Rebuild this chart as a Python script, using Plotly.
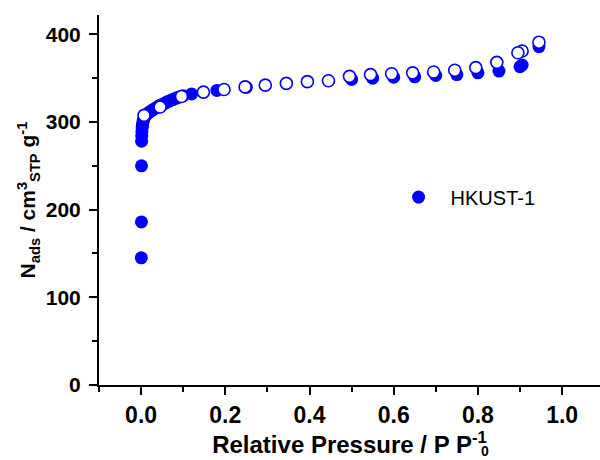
import plotly.graph_objects as go

# N2 isotherm of HKUST-1 (77 K): adsorption branch (filled) and desorption branch (open)
ads_p = [0.0005, 0.0008, 0.001, 0.0012, 0.0015, 0.002, 0.0025, 0.003, 0.004, 0.005,
         0.006, 0.008, 0.01, 0.015, 0.02, 0.025, 0.03, 0.035, 0.04, 0.045,
         0.05, 0.055, 0.06, 0.065, 0.07, 0.075, 0.08, 0.085, 0.09, 0.1,
         0.12, 0.18, 0.25, 0.5, 0.55, 0.6, 0.65, 0.7, 0.75, 0.8,
         0.85, 0.9, 0.905, 0.945]
ads_n = [145, 186, 250, 278, 284, 289, 293, 296, 299, 301,
         303, 305, 307, 309.5, 311.5, 313, 314.5, 316, 317.5, 319,
         320, 321, 322.5, 323.5, 324.5, 325.5, 326.5, 327.5, 328.5, 330,
         332, 336, 339.5, 348.5, 350, 351, 351.5, 353, 354, 356,
         358, 363, 365, 386]

des_p = [0.945, 0.905, 0.895, 0.845, 0.795, 0.745, 0.695, 0.645, 0.595, 0.545,
         0.495, 0.445, 0.395, 0.345, 0.295, 0.247, 0.197, 0.148, 0.096, 0.045, 0.007]
des_n = [391, 381, 379, 368, 362, 359, 357, 356, 355, 354,
         352, 347, 346, 344, 342, 340, 337, 334, 329, 317, 307.5]

series_name = "HKUST-1"
x_ticks = [0.0, 0.2, 0.4, 0.6, 0.8, 1.0]
y_ticks = [0, 100, 200, 300, 400]

BLUE = "#0000FF"
FONT = "Liberation Sans, Arial, sans-serif"

fig = go.Figure()
fig.add_trace(go.Scatter(
    x=ads_p, y=ads_n, mode="markers", name=series_name,
    marker=dict(symbol="circle", size=13, color=BLUE, line=dict(width=0)),
))
fig.add_trace(go.Scatter(
    x=des_p, y=des_n, mode="markers", name=series_name + " desorption",
    showlegend=False,
    marker=dict(symbol="circle", size=12, color="white",
                line=dict(width=1.6, color=BLUE)),
))

axis_common = dict(
    showline=True, linecolor="black", linewidth=2,
    ticks="outside", ticklen=8, tickwidth=2, tickcolor="black",
    showgrid=False, zeroline=False, mirror=False,
)

fig.update_layout(
    width=600, height=460,
    margin=dict(l=99, r=0, t=15, b=75, autoexpand=False),
    paper_bgcolor="white", plot_bgcolor="white",
    font=dict(family=FONT, color="black"),
    showlegend=True,
    legend=dict(
        x=0.574, y=0.508, xanchor="left", yanchor="middle",
        itemwidth=54,
        bgcolor="rgba(0,0,0,0)", borderwidth=0,
        font=dict(family=FONT, size=20, color="black"),
    ),
    xaxis=dict(
        **axis_common,
        range=[-0.1, 1.09],
        tickmode="array", tickvals=x_ticks,
        ticktext=[f"{v:.1f}" for v in x_ticks],
        tickfont=dict(family=FONT, size=23, weight="bold"),
        minor=dict(dtick=0.1, tick0=0, ticks="outside", ticklen=5,
                   tickwidth=2, tickcolor="black", showgrid=False),
        title=dict(text="Relative Pressure / P P<sup>-1</sup>",
                   font=dict(family=FONT, size=24, weight="bold"),
                   standoff=10),
    ),
    yaxis=dict(
        **axis_common,
        range=[0, 422],
        tickmode="array", tickvals=y_ticks,
        tickfont=dict(family=FONT, size=21, weight="bold"),
        ticklabelstandoff=4,
        minor=dict(dtick=50, tick0=0, ticks="outside", ticklen=5,
                   tickwidth=2, tickcolor="black", showgrid=False),
        title=dict(text="N<sub>ads</sub> / cm<sup>3</sup><sub>STP</sub> g<sup>-1</sup>",
                   font=dict(family=FONT, size=21, weight="bold"),
                   standoff=4),
    ),
)

# subscript 0 stacked beneath the -1 exponent in the x-axis title
fig.add_annotation(
    text="0", xref="paper", yref="paper", x=0.770, y=-0.178,
    xanchor="center", yanchor="middle", showarrow=False,
    font=dict(family=FONT, size=14, weight="bold", color="black"),
)

fig.write_html("out.html")
